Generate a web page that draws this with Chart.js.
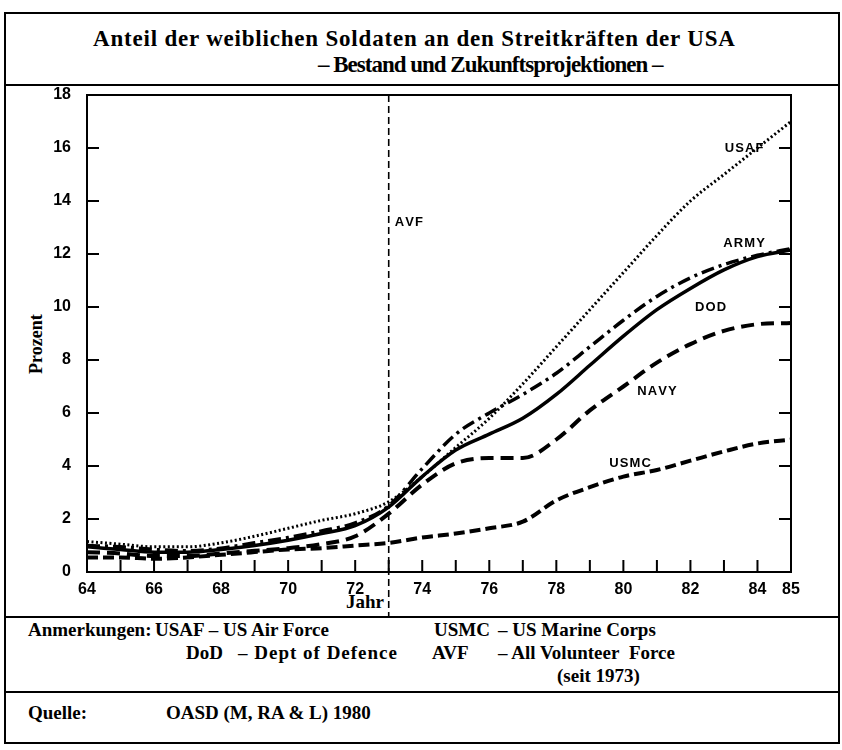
<!DOCTYPE html>
<html>
<head>
<meta charset="utf-8">
<script src="https://cdn.jsdelivr.net/npm/chart.js@4/dist/chart.umd.min.js"></script>
<style>
  html, body { margin: 0; padding: 0; background: #fff; }
  body { width: 842px; height: 750px; position: relative; overflow: hidden; font-family: "Liberation Serif", "DejaVu Serif", serif; color: #000; }
  .frame { position: absolute; left: 4px; top: 12px; width: 832px; height: 728px; border: 2px solid #000; }
  .hline { position: absolute; left: 4px; width: 836px; height: 2px; background: #000; }
  .t { position: absolute; white-space: nowrap; font-weight: bold; }
  .title { font-size: 23px; }
  .note { font-size: 19px; }
  canvas { position: absolute; left: 0; top: 0; }
</style>
</head>
<body>
<div class="frame"></div>
<div class="hline" style="top:84px"></div>
<div class="hline" style="top:616px"></div>
<div class="hline" style="top:691px"></div>

<div class="t title" style="left:93px; top:26px; letter-spacing:0.8px">Anteil der weiblichen Soldaten an den Streitkräften der USA</div>
<div class="t title" style="left:318px; top:52px; letter-spacing:-1px">– Bestand und Zukunftsprojektionen –</div>

<div class="t" style="font-size:18px; transform:rotate(-90deg); transform-origin:left top; top:374px; left:26px">Prozent</div>
<div class="t" style="left:346px; top:591px; font-size:19px">Jahr</div>

<div class="t note" style="left:28px; top:619px">Anmerkungen:</div>
<div class="t note" style="left:155px; top:619px">USAF –</div>
<div class="t note" style="left:223px; top:619px">US Air Force</div>
<div class="t note" style="left:434px; top:619px">USMC</div>
<div class="t note" style="left:498px; top:619px">– US Marine Corps</div>
<div class="t note" style="left:186px; top:642px">DoD</div>
<div class="t note" style="left:238px; top:642px; letter-spacing:1px">– Dept of Defence</div>
<div class="t note" style="left:432px; top:642px">AVF</div>
<div class="t note" style="left:498px; top:642px">– All Volunteer&nbsp; Force</div>
<div class="t note" style="left:557px; top:665px">(seit 1973)</div>

<div class="t note" style="left:28px; top:702px">Quelle:</div>
<div class="t note" style="left:166px; top:702px">OASD (M, RA &amp; L) 1980</div>

<canvas id="chart" width="842" height="750"></canvas>

<script>
// data (percent women in US forces)
const years = [64, 65, 66, 67, 68, 69, 70, 71, 72, 73, 74, 75, 76, 77, 78, 79, 80, 81, 82, 83, 84, 85];
const usaf = [1.15, 1.05, 0.95, 0.95, 1.1, 1.35, 1.65, 1.95, 2.2, 2.65, 3.6, 4.7, 5.8, 7.1, 8.5, 9.9, 11.3, 12.7, 14.0, 15.0, 16.0, 17.0];
const army = [1.0, 0.95, 0.85, 0.8, 0.9, 1.1, 1.3, 1.55, 1.85, 2.5, 3.9, 5.2, 6.0, 6.7, 7.5, 8.5, 9.5, 10.4, 11.1, 11.6, 11.95, 12.2];
const dod = [0.95, 0.85, 0.75, 0.75, 0.85, 1.0, 1.2, 1.45, 1.75, 2.45, 3.6, 4.6, 5.2, 5.8, 6.7, 7.8, 8.9, 9.9, 10.7, 11.4, 11.9, 12.15];
const navy = [0.75, 0.7, 0.6, 0.6, 0.7, 0.8, 0.9, 1.05, 1.35, 2.2, 3.3, 4.1, 4.3, 4.3, 5.0, 6.1, 7.0, 7.9, 8.6, 9.1, 9.35, 9.4];
const usmc = [0.55, 0.55, 0.5, 0.55, 0.65, 0.75, 0.85, 0.9, 1.0, 1.1, 1.3, 1.45, 1.65, 1.9, 2.7, 3.2, 3.6, 3.85, 4.2, 4.55, 4.85, 5.0];

const xTicks = [64, 66, 68, 70, 72, 74, 76, 78, 80, 82, 84, 85];
const yTicks = [0, 2, 4, 6, 8, 10, 12, 14, 16, 18];
const avfYear = 73;

// labels placed beside the curves: [text, year, percent]
const seriesLabels = [
  ["USAF", 83.6, 16.0],
  ["ARMY", 83.6, 12.4],
  ["DOD", 82.6, 10.0],
  ["NAVY", 81.0, 6.8],
  ["USMC", 80.2, 4.1]
];

const pts = vals => vals.map((v, i) => ({ x: years[i], y: v }));

// frame, inward ticks, AVF line and curve labels
const framePlugin = {
  id: "frame",
  afterDraw(chart) {
    const { ctx, chartArea: a, scales } = chart;
    const x = scales.x, y = scales.y;
    ctx.save();
    ctx.strokeStyle = "#000";
    ctx.lineWidth = 2;
    ctx.strokeRect(a.left, a.top, a.right - a.left, a.bottom - a.top);
    ctx.beginPath();
    yTicks.forEach(v => {
      const py = y.getPixelForValue(v);
      ctx.moveTo(a.left, py); ctx.lineTo(a.left + 12, py);
      ctx.moveTo(a.right, py); ctx.lineTo(a.right - 12, py);
    });
    years.forEach(v => {
      const px = x.getPixelForValue(v);
      ctx.moveTo(px, a.bottom); ctx.lineTo(px, a.bottom - 12);
    });
    ctx.stroke();

    // AVF marker
    const ax = x.getPixelForValue(avfYear);
    ctx.lineWidth = 1.6;
    ctx.setLineDash([7, 4]);
    ctx.beginPath();
    ctx.moveTo(ax, a.top);
    ctx.lineTo(ax, 616);
    ctx.stroke();
    ctx.setLineDash([]);

    ctx.fillStyle = "#000";
    ctx.font = "bold 13px 'Liberation Sans', Arial, sans-serif";
    ctx.textBaseline = "middle";
    ctx.textAlign = "left";
    ctx.fillText("AVF".split("").join("\u200A"), ax + 6, y.getPixelForValue(13.2));
    ctx.textAlign = "center";
    seriesLabels.forEach(([t, yr, v]) => {
      ctx.fillText(t.split("").join("\u200A"), x.getPixelForValue(yr), y.getPixelForValue(v));
    });
    ctx.restore();
  }
};

const lineBase = {
  borderColor: "#000",
  pointRadius: 0,
  fill: false,
  cubicInterpolationMode: "monotone"
};

new Chart(document.getElementById("chart"), {
  type: "line",
  data: {
    datasets: [
      { ...lineBase, label: "USAF", data: pts(usaf), borderWidth: 3, borderDash: [2, 2.5] },
      { ...lineBase, label: "ARMY", data: pts(army), borderWidth: 3.5, borderDash: [13, 5, 3, 5] },
      { ...lineBase, label: "DOD", data: pts(dod), borderWidth: 3.5 },
      { ...lineBase, label: "NAVY", data: pts(navy), borderWidth: 4, borderDash: [13, 7] },
      { ...lineBase, label: "USMC", data: pts(usmc), borderWidth: 4, borderDash: [11, 5] }
    ]
  },
  options: {
    responsive: false,
    animation: false,
    layout: { padding: { left: 0, right: 51, top: 95, bottom: 148 } },
    plugins: { legend: { display: false }, tooltip: { enabled: false } },
    scales: {
      x: {
        type: "linear",
        min: 64,
        max: 85,
        afterBuildTicks: s => { s.ticks = xTicks.map(v => ({ value: v })); },
        afterFit: s => { s.height = 30; },
        grid: { display: false, drawTicks: false },
        border: { display: false },
        ticks: {
          autoSkip: false,
          maxRotation: 0,
          padding: 8,
          color: "#000",
          font: { family: "'Liberation Sans Narrow', 'Liberation Sans', sans-serif", size: 16, weight: "bold" }
        }
      },
      y: {
        min: 0,
        max: 18,
        afterBuildTicks: s => { s.ticks = yTicks.map(v => ({ value: v })); },
        afterFit: s => { s.width = 87; },
        grid: { display: false, drawTicks: false },
        border: { display: false },
        ticks: {
          padding: 16,
          color: "#000",
          font: { family: "'Liberation Sans Narrow', 'Liberation Sans', sans-serif", size: 16, weight: "bold" }
        }
      }
    }
  },
  plugins: [framePlugin]
});
</script>
</body>
</html>
